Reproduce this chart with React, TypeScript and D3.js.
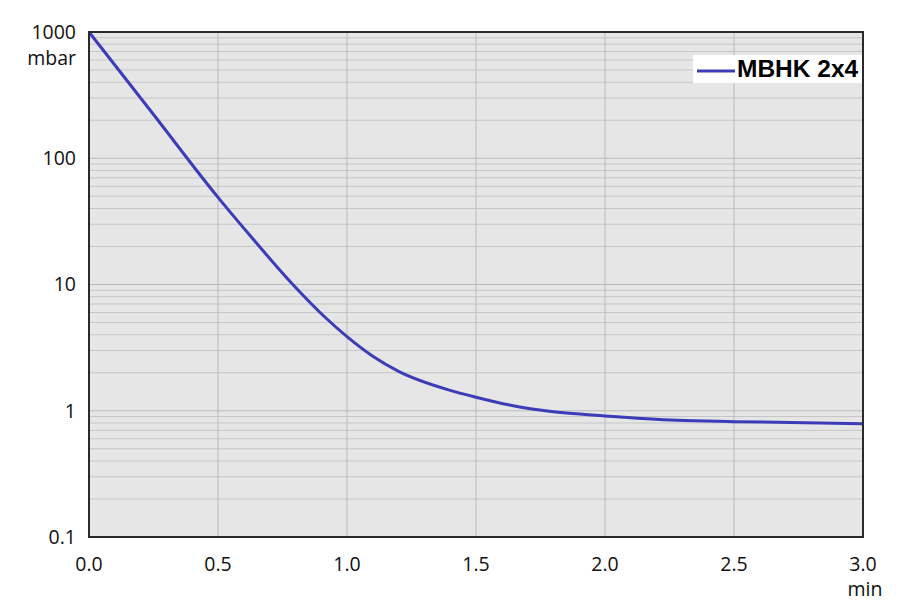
import React from "react";
import * as d3 from "d3";

const times = [0, 0.25, 0.5, 0.62, 0.79, 0.915, 1.0, 1.1, 1.2, 1.4, 1.5, 1.63, 1.8, 2.0, 2.28, 2.5, 3.0];
const pressures = [1000, 222, 49, 25, 10, 5.5, 3.86, 2.7, 2.05, 1.45, 1.28, 1.11, 0.98, 0.91, 0.84, 0.82, 0.79];
const xTicks = [0, 0.5, 1.0, 1.5, 2.0, 2.5, 3.0];
const yTicks = [0.1, 1, 10, 100, 1000];
const yTickLabels = ["0.1", "1", "10", "100", "1000"];
const seriesName = "MBHK 2x4";

const W = 900, H = 602;
const L = 89, R = 863, T = 32, B = 537;

export default function App() {
  const x = d3.scaleLinear().domain([0, 3]).range([L, R]);
  const y = d3.scaleLog().domain([0.1, 1000]).range([B, T]);
  const minor: number[] = [];
  for (let d = 0.1; d < 1000; d *= 10) {
    for (let k = 2; k <= 9; k++) minor.push(d * k);
  }
  const data = times.map((t, i) => [t, pressures[i]] as [number, number]);
  const line = d3.line<[number, number]>()
    .x(d => x(d[0]))
    .y(d => y(d[1]))
    .curve(d3.curveMonotoneX);
  const font = "Open Sans, sans-serif";
  const fs = 19.5;
  return (
    <svg width={W} height={H} style={{ position: "absolute", left: 0, top: 0, background: "#fff" }}>
      <rect x={L} y={T} width={R - L} height={B - T} fill="#e6e6e6" />
      {minor.map((v, i) => (
        <line key={"m" + i} x1={L} x2={R} y1={y(v)} y2={y(v)} stroke="#c6c6c6" strokeWidth={1} />
      ))}
      {yTicks.map((v, i) => (
        <line key={"y" + i} x1={L} x2={R} y1={y(v)} y2={y(v)} stroke="#bababa" strokeWidth={1} />
      ))}
      {xTicks.map((v, i) => (
        <line key={"x" + i} x1={x(v)} x2={x(v)} y1={T} y2={B} stroke="#bababa" strokeWidth={1} />
      ))}
      <path d={line(data) || ""} fill="none" stroke="#3c3cb8" strokeWidth={3} strokeLinejoin="round" />
      <rect x={L} y={T} width={R - L} height={B - T} fill="none" stroke="#2a2a2a" strokeWidth={2} />
      {yTicks.map((v, i) => (
        <text key={"yl" + i} x={76} y={y(v)} dy="0.35em" textAnchor="end" fontFamily={font} fontSize={fs} fill="#111">
          {yTickLabels[i]}
        </text>
      ))}
      <text x={76} y={58} dy="0.35em" textAnchor="end" fontFamily={font} fontSize={fs} fill="#111">mbar</text>
      {xTicks.map((v, i) => (
        <text key={"xl" + i} x={x(v)} y={564} dy="0.35em" textAnchor="middle" fontFamily={font} fontSize={fs} fill="#111">
          {v.toFixed(1)}
        </text>
      ))}
      <text x={865} y={589} dy="0.35em" textAnchor="middle" fontFamily={font} fontSize={fs} fill="#111">min</text>
      <rect x={693} y={55} width={169} height={28} fill="#fff" />
      <line x1={697} x2={735} y1={71} y2={71} stroke="#3c3cb8" strokeWidth={3} />
      <text x={737} y={77} fontFamily="Liberation Sans, Arial, sans-serif" fontWeight="bold" fontSize={24.5} fill="#000">
        {seriesName}
      </text>
    </svg>
  );
}
